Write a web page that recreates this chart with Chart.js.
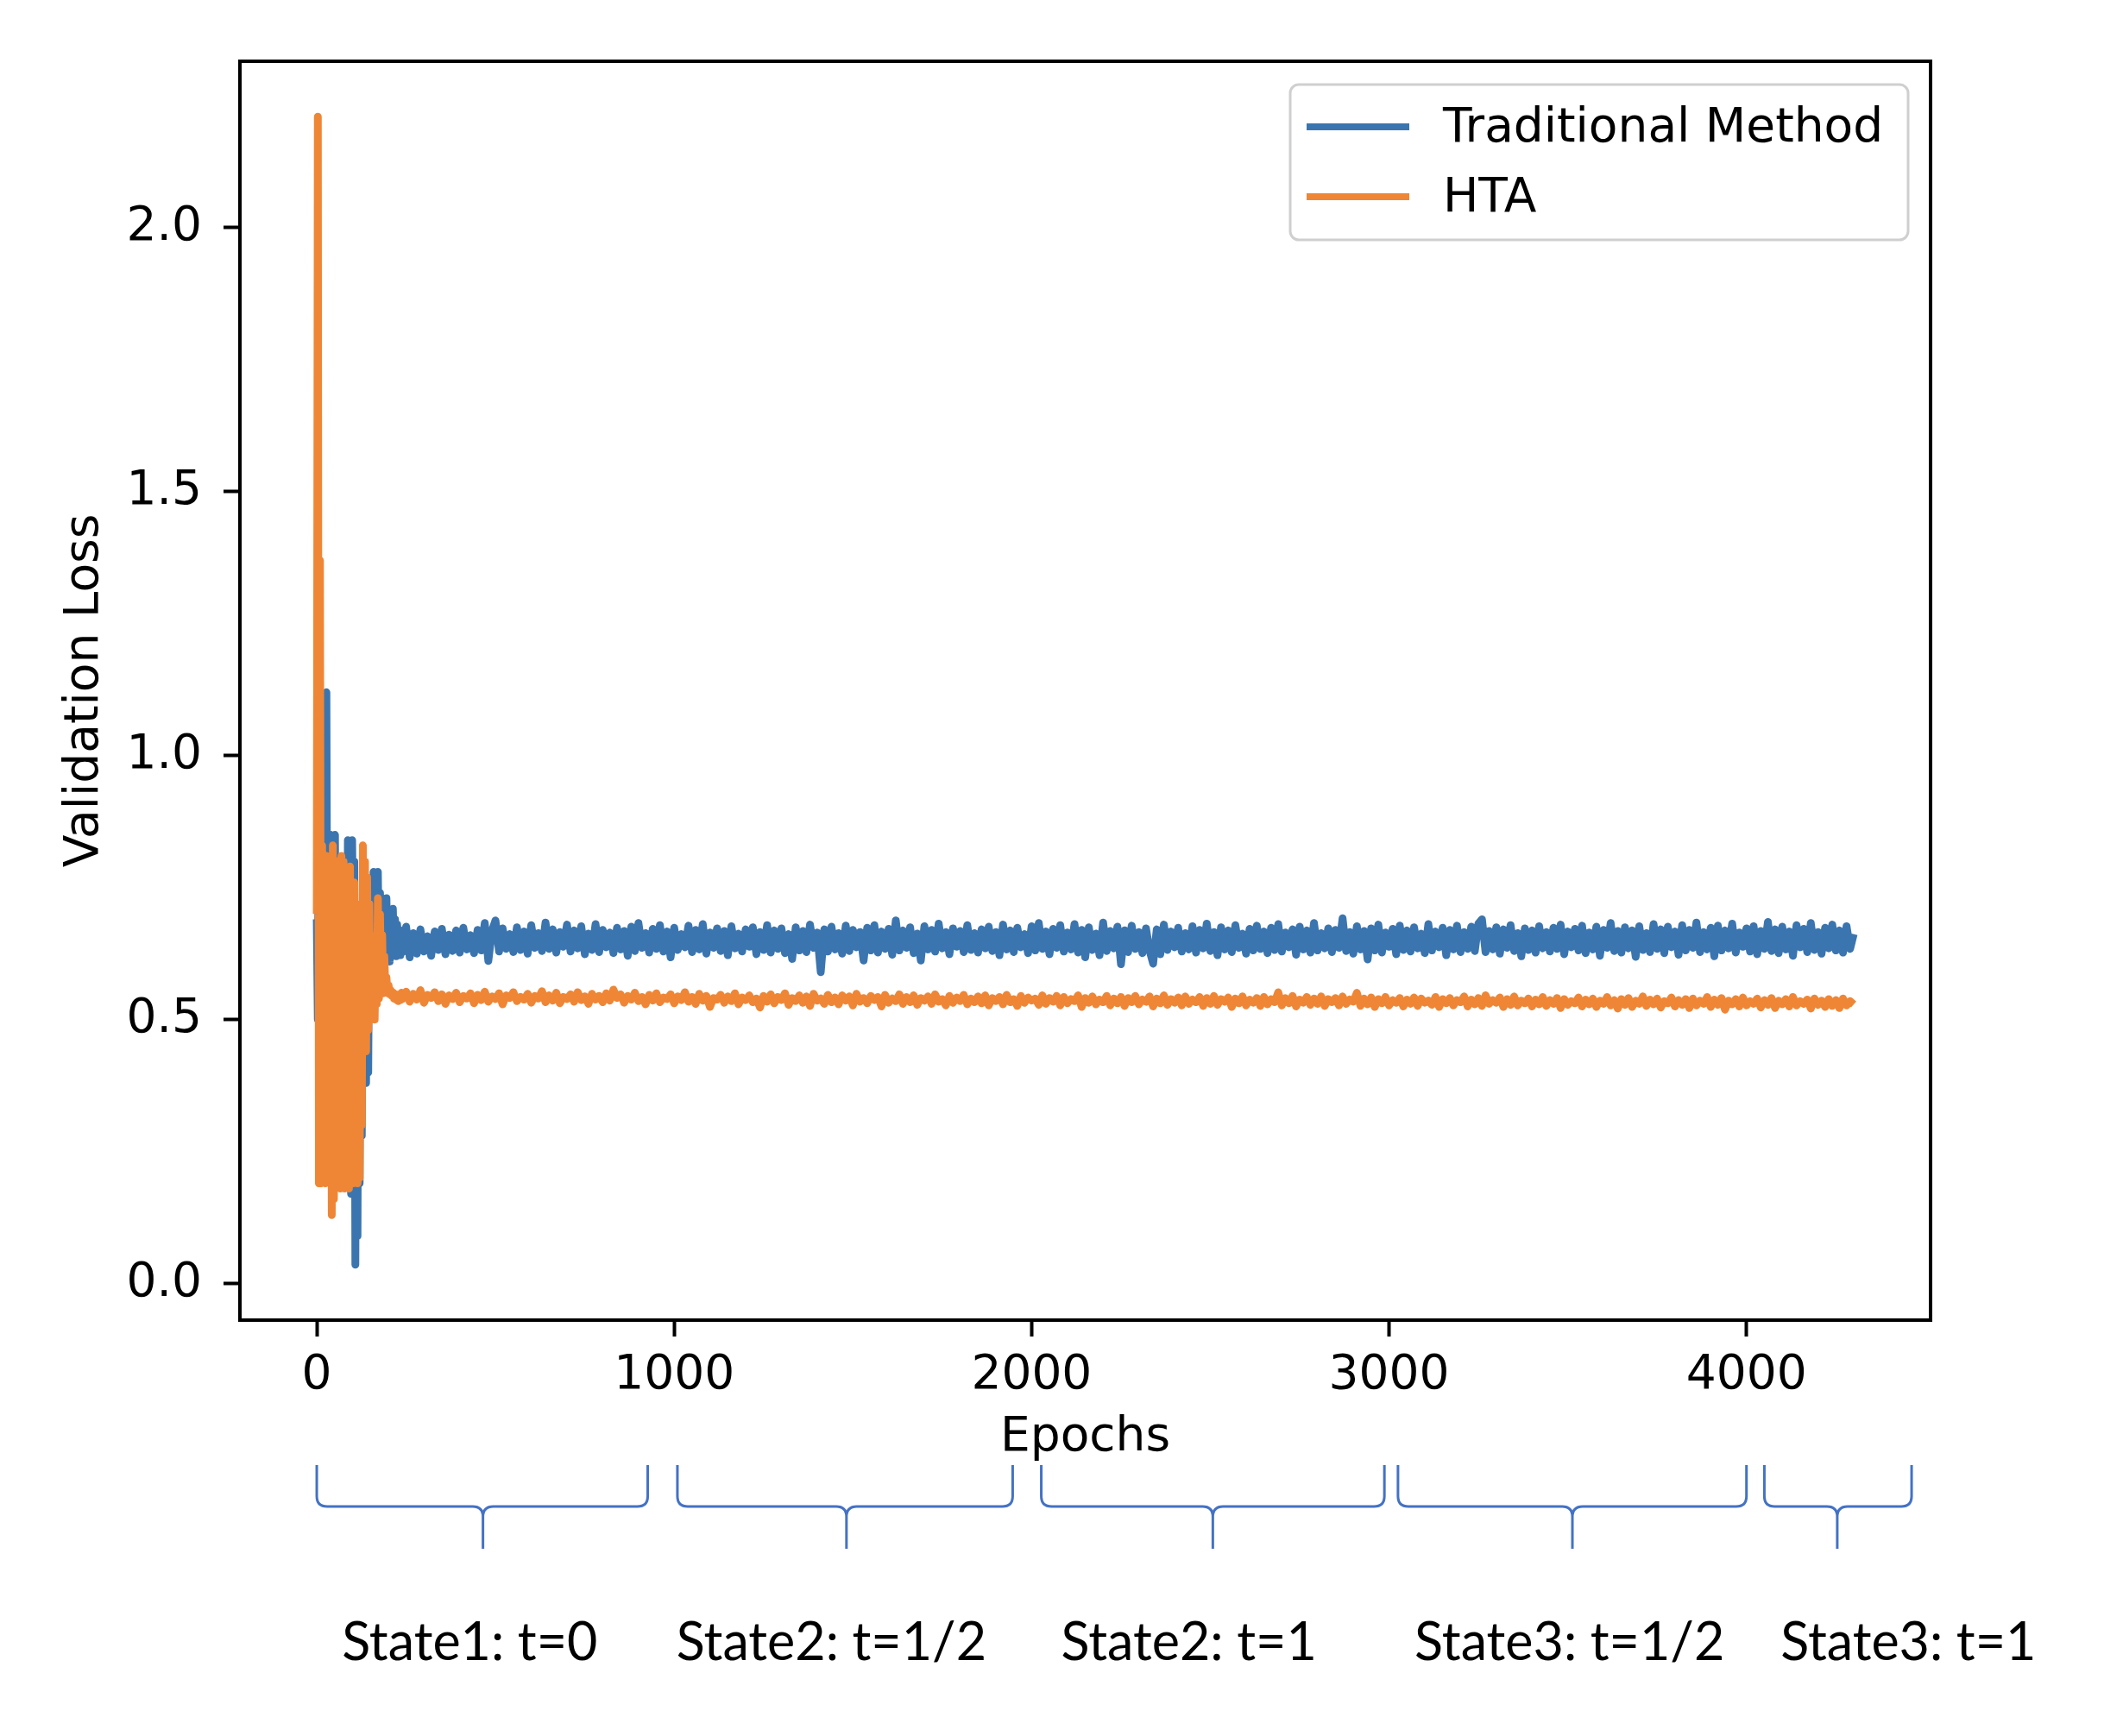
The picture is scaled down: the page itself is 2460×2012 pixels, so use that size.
<!DOCTYPE html>
<html>
<head>
<meta charset="utf-8">
<script src="https://cdn.jsdelivr.net/npm/chart.js@4.4.0/dist/chart.umd.min.js"></script>
<style>
  html, body { margin: 0; padding: 0; background: #ffffff; }
  #chart { display: block; }
</style>
</head>
<body>
<canvas id="chart" width="2460" height="2012"></canvas>
<script>
const seriesNames = ['Traditional Method', 'HTA'];
const seriesColors = ['#3b75af', '#ef8636'];

// first 240 epochs, read every 3 epochs
const earlyStep = 3;
const earlyTraditional = [
  0.69, 0.50, 0.99, 0.42, 0.75, 0.36, 0.98, 0.55, 0.70, 1.12,
  0.45, 0.83, 0.60, 0.85, 0.40, 0.72, 0.30, 0.85, 0.40, 0.70,
  0.25, 0.66, 0.19, 0.61, 0.20, 0.72, 0.33, 0.80, 0.21, 0.84,
  0.60, 0.83, 0.17, 0.84, 0.62, 0.80, 0.036, 0.62, 0.09, 0.70,
  0.19, 0.66, 0.28, 0.74, 0.45, 0.70, 0.38, 0.72, 0.40, 0.74,
  0.55, 0.76, 0.58, 0.78, 0.60, 0.77, 0.62, 0.78, 0.60, 0.74,
  0.62, 0.73, 0.61, 0.72, 0.62, 0.73, 0.62, 0.70, 0.61, 0.69,
  0.62, 0.71, 0.625, 0.69, 0.62, 0.68, 0.63, 0.67, 0.622, 0.668, 0.628
];
const earlyHTA = [
  0.70, 2.21, 0.19, 1.37, 0.19, 0.83, 0.21, 0.72, 0.19, 0.81,
  0.20, 0.68, 0.24, 0.79, 0.13, 0.83, 0.16, 0.70, 0.25, 0.80,
  0.19, 0.76, 0.18, 0.81, 0.22, 0.80, 0.18, 0.72, 0.20, 0.64,
  0.18, 0.79, 0.23, 0.74, 0.19, 0.76, 0.22, 0.70, 0.19, 0.62,
  0.20, 0.72, 0.30, 0.83, 0.45, 0.80, 0.44, 0.77, 0.48, 0.72,
  0.50, 0.66, 0.52, 0.64, 0.50, 0.62, 0.53, 0.73, 0.54, 0.70,
  0.56, 0.66, 0.55, 0.62, 0.56, 0.58, 0.55, 0.565, 0.548, 0.556,
  0.545, 0.552, 0.540, 0.549, 0.538, 0.546, 0.535, 0.548, 0.537, 0.551, 0.539
];

// from epoch 250 on, read every 10 epochs
const lateStart = 250;
const lateStep = 10;
const lateTraditional = [
  0.676,0.618,0.664,0.625,0.671,0.629,0.658,0.621,0.667,0.632,0.672,0.624,0.661,0.630,0.669,0.627,0.674,0.633,0.660,0.626,
  0.670,0.631,0.683,0.611,0.668,0.688,0.629,0.673,0.634,0.662,0.628,0.675,0.632,0.667,0.625,0.679,0.636,0.664,0.630,0.684,
  0.634,0.671,0.627,0.666,0.638,0.680,0.629,0.669,0.635,0.677,0.624,0.663,0.632,0.681,0.628,0.670,0.637,0.665,0.626,0.674,
  0.633,0.668,0.621,0.676,0.630,0.683,0.636,0.664,0.627,0.672,0.634,0.679,0.629,0.667,0.618,0.674,0.632,0.662,0.637,0.678,
  0.628,0.670,0.633,0.681,0.625,0.665,0.636,0.673,0.630,0.668,0.622,0.677,0.635,0.663,0.629,0.671,0.638,0.675,0.624,0.666,
  0.632,0.679,0.627,0.669,0.634,0.673,0.626,0.662,0.615,0.675,0.631,0.668,0.628,0.680,0.636,0.665,0.590,0.671,0.629,0.676,
  0.633,0.664,0.625,0.678,0.630,0.670,0.637,0.666,0.612,0.674,0.631,0.679,0.627,0.667,0.634,0.672,0.623,0.688,0.631,0.669,
  0.636,0.675,0.626,0.663,0.612,0.677,0.633,0.670,0.629,0.682,0.635,0.666,0.624,0.673,0.638,0.668,0.628,0.679,0.632,0.664,
  0.627,0.671,0.635,0.676,0.630,0.666,0.622,0.680,0.633,0.669,0.628,0.674,0.637,0.662,0.626,0.677,0.631,0.683,0.634,0.667,
  0.624,0.672,0.636,0.679,0.629,0.665,0.633,0.681,0.627,0.670,0.618,0.675,0.632,0.663,0.622,0.684,0.630,0.668,0.635,0.676,
  0.605,0.669,0.628,0.678,0.634,0.666,0.626,0.673,0.631,0.606,0.671,0.624,0.680,0.632,0.667,0.637,0.674,0.629,0.664,0.633,
  0.677,0.627,0.670,0.635,0.682,0.630,0.666,0.622,0.675,0.633,0.669,0.628,0.679,0.636,0.663,0.625,0.672,0.631,0.678,0.634,
  0.667,0.626,0.674,0.632,0.681,0.629,0.665,0.637,0.671,0.623,0.676,0.633,0.669,0.627,0.683,0.631,0.664,0.635,0.673,0.628,
  0.670,0.636,0.692,0.630,0.666,0.625,0.677,0.633,0.668,0.614,0.673,0.631,0.680,0.627,0.665,0.638,0.672,0.624,0.678,0.632,
  0.669,0.629,0.675,0.635,0.663,0.626,0.681,0.631,0.667,0.637,0.674,0.622,0.670,0.633,0.678,0.628,0.666,0.634,0.676,0.630,
  0.682,0.690,0.628,0.668,0.633,0.675,0.625,0.671,0.636,0.679,0.630,0.664,0.620,0.673,0.632,0.669,0.627,0.677,0.635,0.666,
  0.629,0.674,0.634,0.680,0.624,0.667,0.637,0.672,0.631,0.678,0.626,0.665,0.633,0.676,0.621,0.670,0.636,0.683,0.630,0.668,
  0.627,0.675,0.635,0.669,0.619,0.677,0.632,0.664,0.628,0.681,0.634,0.671,0.626,0.676,0.637,0.667,0.623,0.679,0.631,0.670,
  0.636,0.684,0.628,0.666,0.633,0.674,0.620,0.678,0.631,0.669,0.635,0.682,0.627,0.665,0.638,0.673,0.629,0.677,0.624,0.668,
  0.634,0.685,0.630,0.671,0.626,0.676,0.633,0.667,0.621,0.679,0.637,0.672,0.628,0.683,0.632,0.666,0.625,0.674,0.635,0.680,
  0.631,0.669,0.627,0.677,0.634,0.662
];
const lateHTA = [
  0.553,0.534,0.549,0.538,0.556,0.532,0.547,0.541,0.552,0.535,0.548,0.530,0.546,0.539,0.551,0.533,0.545,0.540,0.550,0.531,
  0.547,0.537,0.553,0.534,0.544,0.539,0.550,0.529,0.546,0.541,0.552,0.535,0.543,0.538,0.549,0.532,0.545,0.540,0.554,0.533,
  0.546,0.536,0.551,0.531,0.543,0.539,0.548,0.534,0.552,0.537,0.544,0.530,0.549,0.538,0.545,0.533,0.550,0.536,0.557,0.541,
  0.548,0.532,0.545,0.538,0.551,0.535,0.543,0.529,0.547,0.536,0.550,0.533,0.542,0.539,0.548,0.531,0.544,0.537,0.552,0.534,
  0.543,0.530,0.549,0.536,0.545,0.524,0.541,0.538,0.547,0.532,0.544,0.535,0.550,0.529,0.542,0.537,0.546,0.533,0.540,0.523,
  0.545,0.534,0.548,0.531,0.543,0.537,0.550,0.528,0.541,0.535,0.546,0.532,0.544,0.526,0.549,0.536,0.540,0.530,0.547,0.533,
  0.542,0.529,0.546,0.536,0.544,0.527,0.549,0.534,0.541,0.531,0.545,0.537,0.543,0.525,0.547,0.532,0.540,0.535,0.548,0.530,
  0.543,0.533,0.546,0.528,0.541,0.536,0.544,0.530,0.548,0.534,0.539,0.527,0.545,0.532,0.542,0.535,0.547,0.529,0.540,0.533,
  0.544,0.531,0.546,0.527,0.541,0.535,0.543,0.529,0.547,0.533,0.539,0.526,0.545,0.532,0.542,0.536,0.540,0.528,0.546,0.530,
  0.541,0.534,0.545,0.527,0.543,0.531,0.539,0.535,0.546,0.524,0.541,0.532,0.544,0.529,0.538,0.533,0.545,0.527,0.540,0.531,
  0.543,0.526,0.541,0.533,0.545,0.529,0.538,0.534,0.544,0.525,0.540,0.531,0.546,0.528,0.539,0.532,0.542,0.527,0.544,0.530,
  0.538,0.533,0.543,0.526,0.541,0.530,0.545,0.528,0.539,0.534,0.542,0.524,0.540,0.531,0.544,0.527,0.538,0.532,0.541,0.526,
  0.543,0.529,0.539,0.533,0.552,0.527,0.541,0.531,0.545,0.525,0.538,0.532,0.543,0.528,0.540,0.530,0.544,0.526,0.539,0.533,
  0.541,0.527,0.544,0.530,0.538,0.534,0.551,0.526,0.540,0.529,0.542,0.524,0.539,0.531,0.543,0.527,0.537,0.532,0.541,0.525,
  0.538,0.530,0.542,0.526,0.540,0.532,0.536,0.528,0.543,0.524,0.539,0.531,0.541,0.527,0.537,0.533,0.544,0.525,0.538,0.529,
  0.541,0.526,0.546,0.530,0.537,0.532,0.542,0.524,0.539,0.528,0.544,0.527,0.536,0.531,0.540,0.525,0.538,0.529,0.543,0.526,
  0.537,0.530,0.541,0.522,0.539,0.528,0.535,0.531,0.542,0.525,0.538,0.529,0.540,0.524,0.536,0.530,0.543,0.527,0.537,0.521,
  0.539,0.528,0.541,0.524,0.536,0.530,0.544,0.526,0.538,0.529,0.540,0.523,0.535,0.531,0.542,0.525,0.537,0.528,0.539,0.522,
  0.540,0.527,0.536,0.530,0.543,0.524,0.538,0.528,0.541,0.519,0.536,0.529,0.539,0.525,0.542,0.527,0.535,0.530,0.540,0.523,
  0.537,0.528,0.541,0.522,0.536,0.529,0.539,0.525,0.543,0.527,0.535,0.530,0.538,0.521,0.540,0.528,0.536,0.524,0.539,0.526,
  0.537,0.522,0.540,0.527,0.535,0.529
];

const xTicks = [0, 1000, 2000, 3000, 4000];
const yTicks = [0, 0.5, 1.0, 1.5, 2.0];

// brackets drawn under the x axis, in epochs
const stateLabels = ['State1: t=0', 'State2: t=1/2', 'State2: t=1', 'State3: t=1/2', 'State3: t=1'];
const stateStart = [0, 1009, 2027, 3025, 4050];
const stateEnd = [926, 1947, 2987, 4000, 4462];
const stateTip = [465, 1482, 2507, 3513, 4254];
const stateLabelAt = [428, 1440, 2440, 3505, 4453];

function toPoints(early, late) {
    const pts = early.map((y, i) => ({ x: i * earlyStep, y: y }));
    late.forEach((y, i) => pts.push({ x: lateStart + i * lateStep, y: y }));
    return pts;
}

const tickFont = { family: 'DejaVu Sans', size: 55 };

const extras = {
    id: 'extras',
    afterDatasetsDraw(chart) {
        const { ctx, chartArea: a } = chart;
        ctx.save();
        ctx.strokeStyle = '#000000';
        ctx.lineWidth = 4;
        ctx.strokeRect(a.left, a.top, a.right - a.left, a.bottom - a.top);
        ctx.restore();
    },
    afterDraw(chart) {
        const { ctx, chartArea: a } = chart;
        const xs = chart.scales.x;

        // legend, matplotlib style, upper right
        ctx.save();
        const boxW = 716, boxH = 180;
        const boxL = a.right - 26 - boxW, boxT = a.top + 27;
        ctx.beginPath();
        ctx.roundRect(boxL, boxT, boxW, boxH, 10);
        ctx.fillStyle = 'rgba(255,255,255,0.85)';
        ctx.fill();
        ctx.strokeStyle = '#cfcfcf';
        ctx.lineWidth = 3;
        ctx.stroke();
        ctx.font = '55px "DejaVu Sans"';
        ctx.textBaseline = 'middle';
        ctx.textAlign = 'left';
        chart.data.datasets.forEach((ds, i) => {
            const y = boxT + 49 + i * 81;
            ctx.beginPath();
            ctx.moveTo(boxL + 19, y);
            ctx.lineTo(boxL + 138, y);
            ctx.strokeStyle = ds.borderColor;
            ctx.lineWidth = 8;
            ctx.stroke();
            ctx.fillStyle = '#000000';
            ctx.fillText(ds.label, boxL + 177, y + 3);
        });
        ctx.restore();

        // curly brackets + state labels
        ctx.save();
        const top = a.bottom + 168, mid = a.bottom + 216, bot = a.bottom + 265, r = 12;
        ctx.strokeStyle = '#4472c4';
        ctx.lineWidth = 3;
        stateLabels.forEach((lab, i) => {
            const x0 = xs.getPixelForValue(stateStart[i]);
            const x1 = xs.getPixelForValue(stateEnd[i]);
            const xm = xs.getPixelForValue(stateTip[i]);
            ctx.beginPath();
            ctx.moveTo(x0, top);
            ctx.lineTo(x0, mid - r);
            ctx.quadraticCurveTo(x0, mid, x0 + r, mid);
            ctx.lineTo(xm - r, mid);
            ctx.quadraticCurveTo(xm, mid, xm, mid + r);
            ctx.lineTo(xm, bot);
            ctx.moveTo(x1, top);
            ctx.lineTo(x1, mid - r);
            ctx.quadraticCurveTo(x1, mid, x1 - r, mid);
            ctx.lineTo(xm + r, mid);
            ctx.quadraticCurveTo(xm, mid, xm, mid + r);
            ctx.stroke();

            ctx.fillStyle = '#000000';
            ctx.font = '61px Lato';
            ctx.textAlign = 'center';
            ctx.textBaseline = 'alphabetic';
            ctx.fillText(lab, xs.getPixelForValue(stateLabelAt[i]), a.bottom + 394);
        });
        ctx.restore();
    }
};

new Chart(document.getElementById('chart'), {
    type: 'line',
    data: {
        datasets: [
            {
                label: seriesNames[0],
                data: toPoints(earlyTraditional, lateTraditional),
                borderColor: seriesColors[0],
                borderWidth: 9,
                borderJoinStyle: 'round',
                pointRadius: 0,
                tension: 0,
                order: 1,
            },
            {
                label: seriesNames[1],
                data: toPoints(earlyHTA, lateHTA),
                borderColor: seriesColors[1],
                borderWidth: 9,
                borderJoinStyle: 'round',
                pointRadius: 0,
                tension: 0,
                order: 0,
            },
        ],
    },
    options: {
        responsive: false,
        animation: false,
        devicePixelRatio: 1,
        layout: { padding: { left: 0, top: 71, right: 223, bottom: 310 } },
        plugins: {
            legend: { display: false },
            tooltip: { enabled: false },
        },
        scales: {
            x: {
                type: 'linear',
                min: -215,
                max: 4515,
                afterBuildTicks: (s) => { s.ticks = xTicks.map((v) => ({ value: v })); },
                afterFit: (s) => { s.height = 172; },
                ticks: { font: tickFont, color: '#000000', padding: 13, maxRotation: 0, autoSkip: false, callback: (v) => String(v) },
                grid: { drawOnChartArea: false, tickLength: 19, tickWidth: 4, color: '#000000' },
                border: { display: false },
                title: { display: true, text: 'Epochs', font: tickFont, color: '#000000', padding: { top: 0, bottom: 2 } },
            },
            y: {
                min: -0.069,
                max: 2.315,
                afterBuildTicks: (s) => { s.ticks = yTicks.map((v) => ({ value: v })); },
                afterFit: (s) => { s.width = 278; },
                ticks: { font: tickFont, color: '#000000', padding: 25, autoSkip: false, callback: (v) => v.toFixed(1) },
                grid: { drawOnChartArea: false, tickLength: 19, tickWidth: 4, color: '#000000' },
                border: { display: false },
                title: { display: true, text: 'Validation Loss', font: tickFont, color: '#000000', padding: { top: 66, bottom: 0 } },
            },
        },
    },
    plugins: [extras],
});
</script>
</body>
</html>
